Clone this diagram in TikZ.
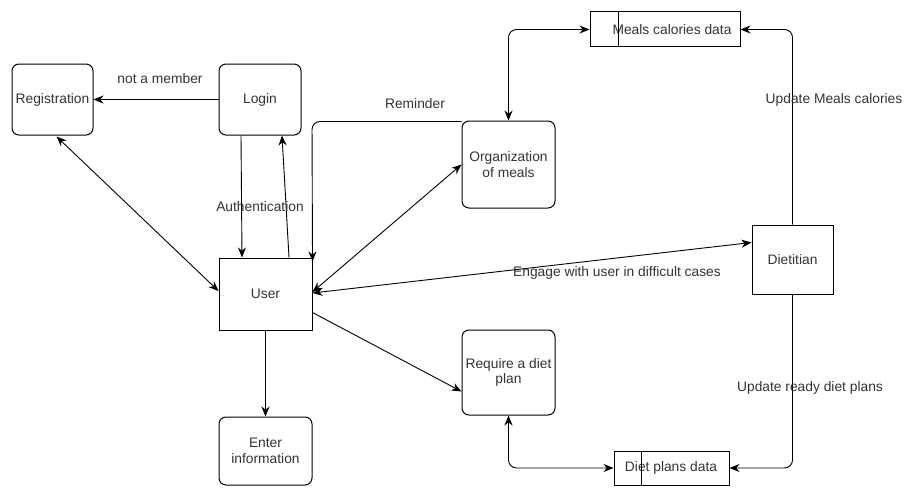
\documentclass[tikz,border=0pt]{standalone}
\usepackage{fontspec}
\setmainfont{Liberation Sans}
\usetikzlibrary{arrows.meta}
\begin{document}
\begin{tikzpicture}[x=1pt,y=-1pt,
  every node/.style={font=\fontsize{13.8}{15.5}\selectfont, text=black!80},
  proc/.style={draw, line width=1pt, rounded corners=7pt, align=center, inner sep=0pt},
  ent/.style={draw, line width=1pt, align=center, inner sep=0pt},
  store/.style={draw, line width=1pt, inner sep=0pt},
  flow/.style={line width=0.9pt, -{Stealth[length=10pt,width=8pt]}},
  biflow/.style={line width=0.9pt, {Stealth[length=10pt,width=8pt]}-{Stealth[length=10pt,width=8pt]}},
  lbl/.style={inner sep=1pt}]
\useasboundingbox (0,0) rectangle (904,487);

% processes and entities
\node[proc, minimum width=81pt, minimum height=71pt] (reg) at (52.5,99.5) {Registration};
\node[proc, minimum width=82pt, minimum height=71pt] (login) at (260,99.5) {Login};
\node[ent, minimum width=93pt, minimum height=72pt] (user) at (265.5,294) {User};
\node[proc, minimum width=93pt, minimum height=68pt] (enter) at (265.5,451) {Enter\\information};
\node[proc, minimum width=93pt, minimum height=87pt] (org) at (508.5,164.5) {Organization\\of meals};
\node[proc, minimum width=93pt, minimum height=85pt] (req) at (508.5,372.5) {Require a diet\\plan};
\node[ent, minimum width=81pt, minimum height=69pt] (diet) at (792.5,259.5) {Dietitian};

% data stores
\node[store, minimum width=150pt, minimum height=35pt] (meals) at (665,29.5) {};
\node at (672,29.5) {Meals calories data};
\draw[line width=1pt] ([xshift=29pt]meals.north west) -- ([xshift=29pt]meals.south west);
\node[store, minimum width=115pt, minimum height=34pt] (plans) at (671.5,468) {};
\node at (671,468) {Diet plans data};
\draw[line width=1pt] ([xshift=28pt]plans.north west) -- ([xshift=28pt]plans.south west);

% connectors
\draw[flow] (login.west) -- (reg.east);
\node[lbl] (nm) at (160,79) {not a member};
\draw[biflow] ([xshift=4pt,yshift=-1pt]reg.south) -- ([yshift=3pt]user.west);
\draw[flow] ([xshift=-19pt]login.south) -- ([xshift=-23.5pt]user.north);
\draw[flow] ([xshift=23.5pt]user.north) -- ([xshift=22pt]login.south);
\node[lbl] (auth) at (260,207) {Authentication};
\coordinate (rcorner) at (312,121.5);
\draw[flow, rounded corners=8pt] ([yshift=43pt]org.west) -- (rcorner) -- ([yshift=-4pt]user.north east);
\node[lbl] (remind) at (415,104) {Reminder};
\draw[biflow] ([yshift=2pt]user.east) -- (org.west);
\draw[biflow] ([yshift=1pt]user.east) -- ([yshift=17pt]diet.west);
\node[lbl] (engage) at (617,273) {Engage with user in difficult cases};
\draw[flow] ([yshift=18pt]user.south east) -- ([yshift=-19pt]req.west);
\draw[flow] (user.south) -- (enter.north);
\draw[biflow, rounded corners=8pt] (org.north) |- (meals.west);
\draw[flow, rounded corners=8pt] (diet.north) |- (meals.east);
\node[lbl] (updm) at (834,100) {Update Meals calories};
\draw[biflow, rounded corners=8pt] (req.south) |- (plans.west);
\draw[flow, rounded corners=8pt] (diet.south) |- (plans.east);
\node[lbl] (updd) at (810,388) {Update ready diet plans};
\end{tikzpicture}
\end{document}
